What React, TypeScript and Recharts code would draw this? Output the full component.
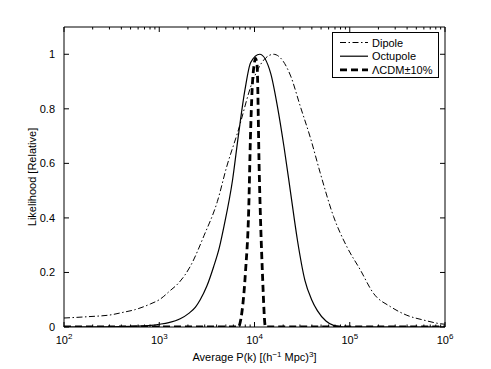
import React from 'react';
import { LineChart, Line, XAxis, YAxis, Label } from 'recharts';

// P(k) values, with the relative likelihood for each
const dipoleP = [100, 182, 316, 407, 562, 813, 1000, 1318, 1585, 2138, 2951, 4074, 5129, 6607, 9772, 12589, 15849, 19953, 23988, 30200, 38905, 48978, 67608, 93325, 128825, 177828, 269153, 398107, 602560, 891251, 1000000];
const dipoleL = [0.033, 0.038, 0.045, 0.053, 0.064, 0.085, 0.1, 0.135, 0.16, 0.225, 0.335, 0.46, 0.59, 0.71, 0.91, 0.98, 1.0, 0.975, 0.92, 0.81, 0.69, 0.565, 0.405, 0.294, 0.21, 0.123, 0.074, 0.043, 0.025, 0.012, 0.01];

const octupoleP = [100, 316, 562, 813, 1000, 1259, 1660, 2042, 2400, 2692, 3162, 3715, 4266, 4786, 5888, 6761, 7943, 9120, 11350, 14791, 17378, 20417, 23988, 28184, 33884, 39811, 45709, 56234, 67608, 89125, 1000000];
const octupoleL = [0, 0.001, 0.003, 0.006, 0.01, 0.016, 0.03, 0.05, 0.073, 0.1, 0.15, 0.22, 0.29, 0.37, 0.54, 0.7, 0.87, 0.97, 1.0, 0.93, 0.81, 0.66, 0.49, 0.32, 0.17, 0.1, 0.06, 0.022, 0.006, 0, 0];

const lcdmP = [100, 6761, 7200, 8035, 8710, 9057, 9441, 10000, 10233, 10641, 11220, 12106, 13032, 1000000];
const lcdmL = [0, 0, 0.03, 0.2, 0.44, 0.69, 0.87, 0.97, 0.985, 0.96, 0.565, 0.2, 0, 0];

const decades = [100, 1000, 10000, 100000, 1000000];
const minorSteps = [2, 3, 4, 5, 6, 7, 8, 9];
const yTicks = [0, 0.2, 0.4, 0.6, 0.8, 1];

const toRows = (p: number[], l: number[]) => p.map((x, i) => ({ x, y: l[i] }));
const dipole = toRows(dipoleP, dipoleL);
const octupole = toRows(octupoleP, octupoleL);
const lcdm = toRows(lcdmP, lcdmL);

const xTicks = [
  ...decades,
  ...decades.slice(0, -1).flatMap((d) => minorSteps.map((m) => m * d)),
].sort((a, b) => a - b);

const FONT = '"Liberation Sans", Arial, Helvetica, sans-serif';
const DASHDOT = '6 2.5 1.5 2.5';
const DASHED = '7 4';

function XTick(props: any) {
  const { x, y, payload, top } = props;
  const v = payload.value;
  const exp = Math.round(Math.log10(v));
  const major = Math.abs(Math.pow(10, exp) - v) < 1e-6;
  const len = major ? 5 : 2.5;
  const dir = top ? 1 : -1;
  return (
    <g>
      <line x1={x} y1={y} x2={x} y2={y + dir * len} stroke="#000" strokeWidth={1} />
      {!top && major && (
        <text x={x} y={y + 17} textAnchor="middle" fontSize={11} fontFamily={FONT} fill="#000">
          10
          <tspan dy={-5} fontSize={8}>{exp}</tspan>
        </text>
      )}
    </g>
  );
}

function YTick(props: any) {
  const { x, y, payload, right } = props;
  const dir = right ? -1 : 1;
  return (
    <g>
      <line x1={x} y1={y} x2={x + dir * 5} y2={y} stroke="#000" strokeWidth={1} />
      {!right && (
        <text x={x - 9} y={y + 4} textAnchor="end" fontSize={11} fontFamily={FONT} fill="#000">
          {String(payload.value)}
        </text>
      )}
    </g>
  );
}

function LegendBox() {
  const rows = [
    { name: 'Dipole', dash: DASHDOT, width: 1 },
    { name: 'Octupole', dash: undefined, width: 1.2 },
    { name: 'ΛCDM±10%', dash: DASHED, width: 2.8 },
  ];
  return (
    <svg width={108} height={47} style={{ position: 'absolute', left: 332, top: 32 }}>
      <rect x={0.5} y={0.5} width={106} height={45} fill="#fff" stroke="#000" strokeWidth={1} />
      {rows.map((r, i) => (
        <g key={r.name}>
          <line x1={8} x2={36} y1={10.5 + i * 13.7} y2={10.5 + i * 13.7} stroke="#000" strokeWidth={r.width} strokeDasharray={r.dash} />
          <text x={40} y={14.5 + i * 13.7} fontSize={11} fontFamily={FONT} fill="#000">{r.name}</text>
        </g>
      ))}
    </svg>
  );
}

export default function App() {
  return (
    <div style={{ position: 'absolute', left: 0, top: 0, width: 491, height: 369, background: '#fff' }}>
      <LineChart width={491} height={369} margin={{ top: 26, right: 45, bottom: 0, left: 0 }}>
        <XAxis
          xAxisId="b"
          dataKey="x"
          type="number"
          scale="log"
          domain={[100, 1000000]}
          allowDataOverflow
          ticks={xTicks}
          interval={0}
          tickSize={0}
          tickMargin={0}
          tickLine={false}
          axisLine={{ stroke: '#000' }}
          height={42}
          tick={(p: any) => <XTick {...p} />}
        >
          <Label
            content={(lp: any) => (
              <text x={lp.viewBox.x + lp.viewBox.width / 2} y={lp.viewBox.y + 34} textAnchor="middle" fontSize={11} fontFamily={FONT} fill="#000">
                Average P(k) [(h
                <tspan dy={-4} fontSize={8}>−1</tspan>
                <tspan dy={4}> Mpc)</tspan>
                <tspan dy={-4} fontSize={8}>3</tspan>
                <tspan dy={4}>]</tspan>
              </text>
            )}
          />
        </XAxis>
        <XAxis
          xAxisId="t"
          orientation="top"
          dataKey="x"
          type="number"
          scale="log"
          domain={[100, 1000000]}
          allowDataOverflow
          ticks={xTicks}
          interval={0}
          tickSize={0}
          tickMargin={0}
          tickLine={false}
          axisLine={{ stroke: '#000' }}
          height={1}
          tick={(p: any) => <XTick {...p} top />}
        />
        <YAxis
          yAxisId="l"
          type="number"
          domain={[0, 1.1]}
          allowDataOverflow
          ticks={yTicks}
          interval={0}
          tickSize={0}
          tickMargin={0}
          tickLine={false}
          axisLine={{ stroke: '#000' }}
          width={64}
          tick={(p: any) => <YTick {...p} />}
        >
          <Label
            content={(lp: any) => {
              const cx = 36;
              const cy = lp.viewBox.y + lp.viewBox.height / 2;
              return (
                <text x={cx} y={cy} transform={`rotate(-90 ${cx} ${cy})`} textAnchor="middle" fontSize={11} fontFamily={FONT} fill="#000">
                  Likelihood [Relative]
                </text>
              );
            }}
          />
        </YAxis>
        <YAxis
          yAxisId="r"
          orientation="right"
          type="number"
          domain={[0, 1.1]}
          allowDataOverflow
          ticks={yTicks}
          interval={0}
          tickSize={0}
          tickMargin={0}
          tickLine={false}
          axisLine={{ stroke: '#000' }}
          width={1}
          tick={(p: any) => <YTick {...p} right />}
        />
        {/* invisible copy so the top and right frame axes get drawn */}
        <Line xAxisId="t" yAxisId="r" data={octupole} dataKey="y" stroke="none" dot={false} activeDot={false} isAnimationActive={false} legendType="none" />
        <Line xAxisId="b" yAxisId="l" data={dipole} dataKey="y" type="monotone" stroke="#000" strokeWidth={1} strokeDasharray={DASHDOT} dot={false} isAnimationActive={false} />
        <Line xAxisId="b" yAxisId="l" data={octupole} dataKey="y" type="monotone" stroke="#000" strokeWidth={1.2} dot={false} isAnimationActive={false} />
        <Line xAxisId="b" yAxisId="l" data={lcdm} dataKey="y" type="monotone" stroke="#000" strokeWidth={2.8} strokeDasharray={DASHED} dot={false} isAnimationActive={false} />
      </LineChart>
      <LegendBox />
    </div>
  );
}
